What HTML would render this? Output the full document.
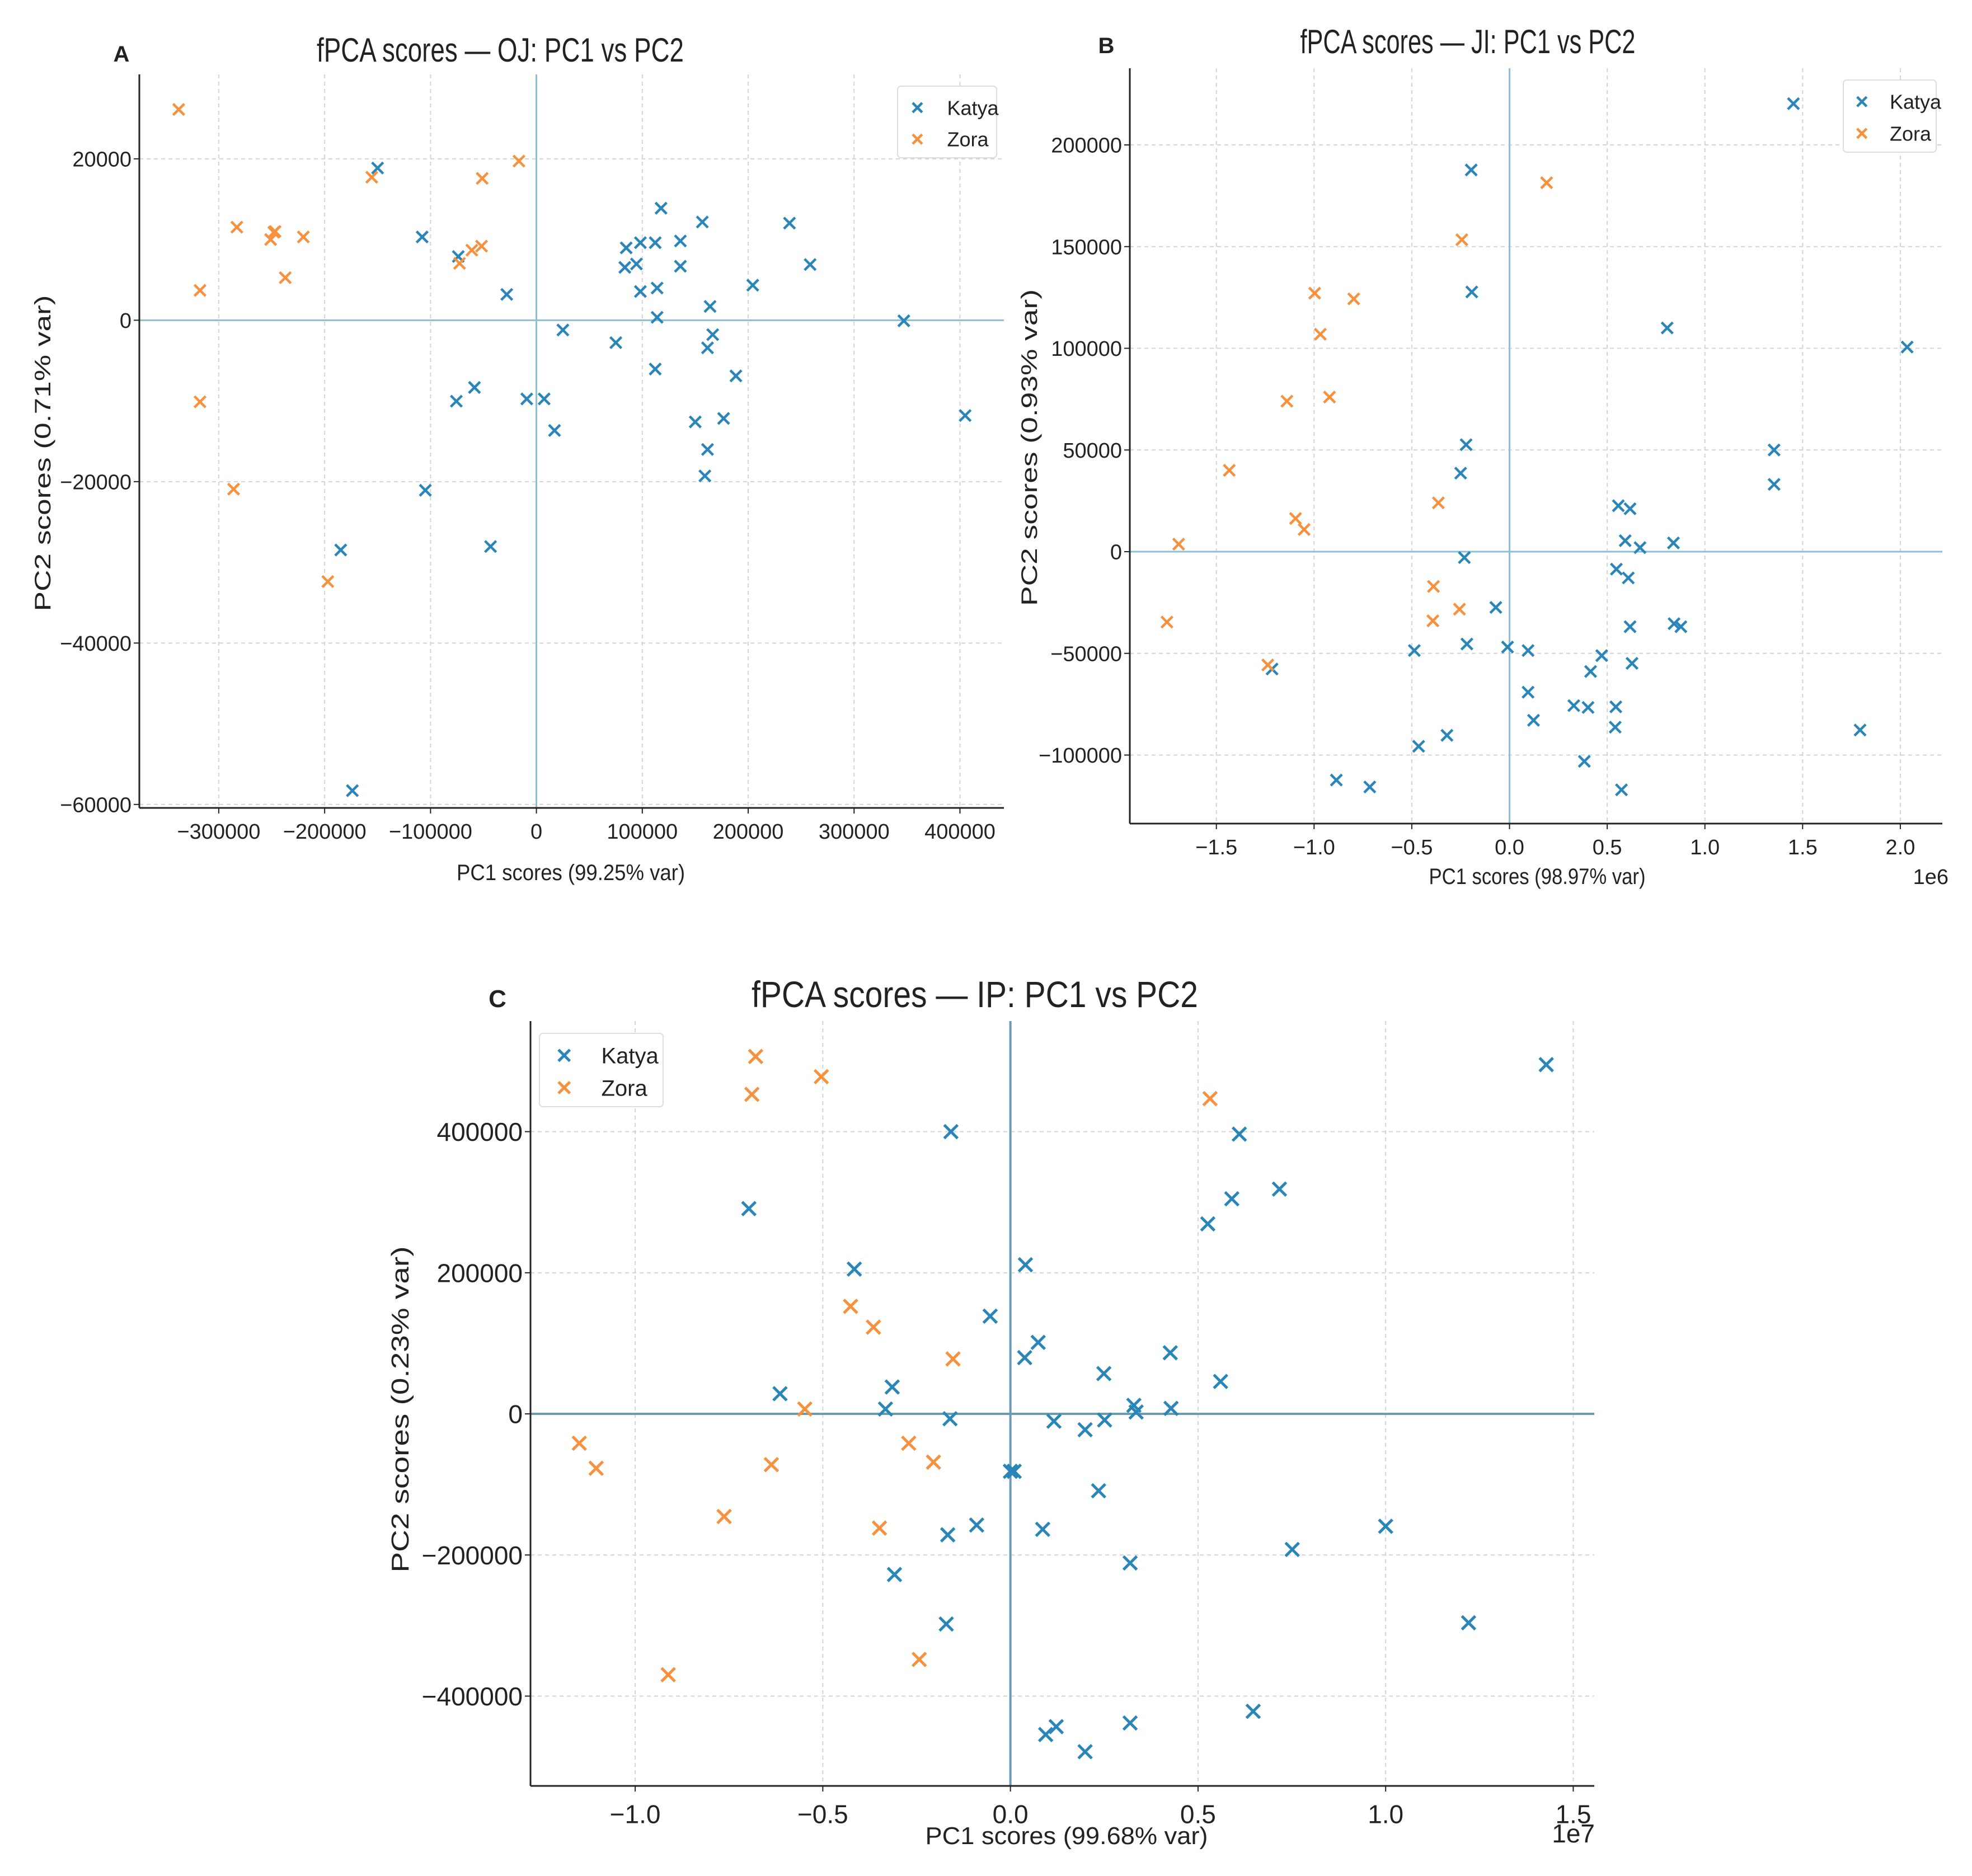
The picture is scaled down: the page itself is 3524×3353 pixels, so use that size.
<!DOCTYPE html>
<html><head><meta charset="utf-8"><style>
html,body{margin:0;padding:0;background:#fff;}
svg{display:block;}
text{font-family:"Liberation Sans",sans-serif;fill:#222;}
</style></head><body>
<svg id="fig" width="3524" height="3353" viewBox="0 0 3524 3353" xmlns="http://www.w3.org/2000/svg">
<rect x="0" y="0" width="3524" height="3353" fill="#fff"/>
</svg>
<script>
// ---------- Panel A (OJ) data ----------
const aKatyaX=[-150000,-107900,-73800,-28000,25000,75000,84800,83500,94500,98200,98200,112200,114000,114000,117700,136000,136000,156700,164000,166500,161600,112200,188400,150000,176800,161600,159100,204300,239000,258500,347000,404900,-75600,-58500,-9100,7300,17100,-104900,-184800,-43300,-173800];
const aKatyaY=[18860,10320,7900,3200,-1210,-2780,8970,6550,6970,9610,3560,9610,3990,360,13880,9820,6690,12170,1710,-1780,-3420,-6050,-6900,-12600,-12170,-16010,-19290,4340,12030,6900,-70,-11810,-10030,-8330,-9750,-9750,-13660,-21070,-28470,-28040,-58290];
const aZoraX=[-337800,-282900,-251000,-248000,-246800,-220100,-237200,-317700,-317700,-286000,-197000,-155500,-51200,-16500,-61000,-51800,-72600];
const aZoraY=[26120,11530,10000,10900,11000,10320,5270,3700,-10110,-20930,-32380,17720,17580,19720,8680,9180,7050];
const aXTicks=[-300000,-200000,-100000,0,100000,200000,300000,400000];
const aXTickLabels=["−300000","−200000","−100000","0","100000","200000","300000","400000"];
const aYTicks=[-60000,-40000,-20000,0,20000];
const aYTickLabels=["−60000","−40000","−20000","0","20000"];
// ---------- Panel B (JI) data ----------
const bKatyaX=[1.453e6,-0.196e6,-0.193e6,0.807e6,2.035e6,-0.222e6,-0.25e6,1.354e6,1.354e6,0.557e6,0.617e6,0.592e6,0.668e6,0.839e6,-0.231e6,0.547e6,0.608e6,-0.07e6,0.617e6,0.842e6,0.877e6,-0.218e6,-0.01e6,0.095e6,-0.487e6,0.472e6,0.627e6,0.415e6,-1.215e6,0.095e6,0.329e6,0.402e6,0.544e6,0.123e6,0.541e6,-0.32e6,-0.465e6,0.383e6,-0.886e6,-0.715e6,0.573e6,1.794e6];
const bKatyaY=[220300,187700,127700,110000,100600,52600,38600,50000,33100,22600,21100,5400,2000,4300,-2900,-8600,-12900,-27400,-36900,-35400,-36900,-45400,-46900,-48600,-48600,-51100,-54900,-58900,-57700,-69100,-75700,-76600,-76300,-82900,-86300,-90300,-95700,-103100,-112300,-115700,-117100,-87700];
const bZoraX=[0.19e6,-0.244e6,-0.997e6,-0.797e6,-0.968e6,-1.139e6,-0.921e6,-1.434e6,-0.364e6,-1.095e6,-1.051e6,-1.693e6,-0.389e6,-0.256e6,-0.392e6,-1.753e6,-1.237e6];
const bZoraY=[181400,153400,127100,124300,106900,74000,76000,40000,24000,16300,10900,3700,-17100,-28300,-34000,-34600,-55700];
const bXTicks=[-1.5e6,-1.0e6,-0.5e6,0,0.5e6,1.0e6,1.5e6,2.0e6];
const bXTickLabels=["−1.5","−1.0","−0.5","0.0","0.5","1.0","1.5","2.0"];
const bYTicks=[-100000,-50000,0,50000,100000,150000,200000];
const bYTickLabels=["−100000","−50000","0","50000","100000","150000","200000"];
// ---------- Panel C (IP) data ----------
const cKatyaX=[14.28e6,-1.586e6,6.10e6,7.17e6,5.90e6,5.26e6,-6.97e6,-4.16e6,0.40e6,-0.54e6,0.74e6,0.38e6,4.26e6,2.49e6,5.60e6,-6.14e6,-3.15e6,-3.33e6,-1.61e6,1.16e6,1.99e6,2.51e6,3.29e6,3.35e6,4.28e6,0,0.1e6,2.35e6,-0.9e6,-1.67e6,0.86e6,3.19e6,-3.09e6,7.51e6,10.0e6,12.21e6,-1.71e6,6.47e6,3.19e6,1.22e6,0.94e6,1.99e6];
const cKatyaY=[495000,400000,396500,318600,304800,269300,290900,205200,211300,138500,101300,79700,86600,57100,45900,28600,38100,6900,-6900,-10400,-22500,-8700,12100,2600,7800,-81400,-81400,-109000,-157600,-171400,-163600,-211300,-227700,-192200,-159300,-296100,-297800,-421600,-438100,-443300,-454500,-478800];
const cZoraX=[-6.79e6,-6.89e6,-5.04e6,5.32e6,-4.26e6,-3.65e6,-1.53e6,-5.48e6,-2.71e6,-2.05e6,-6.37e6,-11.49e6,-11.04e6,-7.63e6,-3.49e6,-2.43e6,-9.12e6];
const cZoraY=[506500,452800,477900,446800,152400,122900,77900,6900,-41600,-68400,-71900,-41600,-77100,-145500,-161900,-348100,-369700];
const cXTicks=[-1.0e7,-0.5e7,0,0.5e7,1.0e7,1.5e7];
const cXTickLabels=["−1.0","−0.5","0.0","0.5","1.0","1.5"];
const cYTicks=[-400000,-200000,0,200000,400000];
const cYTickLabels=["−400000","−200000","0","200000","400000"];

const BLUE="#2a86b8", ORANGE="#f7913d";
const NS="http://www.w3.org/2000/svg";
const svg=document.getElementById('fig');
function mk(tag,attrs,parent){const e=document.createElementNS(NS,tag);for(const k in attrs)e.setAttribute(k,attrs[k]);(parent||svg).appendChild(e);return e;}

function drawPanel(p){
  const g=mk('g',{});
  
  
  const sx=v=>p.L+(v-p.xmin)/(p.xmax-p.xmin)*(p.R-p.L);
  const sy=v=>p.B-(v-p.ymin)/(p.ymax-p.ymin)*(p.B-p.T);
  p.xt.forEach((t,i)=>{
    const l=mk('line',{x1:sx(t),x2:sx(t),y1:p.T,y2:p.B,stroke:'#d4d4d4','stroke-width':2,'stroke-dasharray':'7,6'},g);
    
    
    const tk=mk('line',{x1:sx(t),x2:sx(t),y1:p.B,y2:p.B+10,stroke:'#222','stroke-width':2},g);
    
    
    const tx=mk('text',{x:sx(t),y:p.B+p.fs*1.45,'font-size':p.fs,'text-anchor':'middle'},g);
    tx.textContent=p.xl[i];
    
    
  });
  p.yt.forEach((t,i)=>{
    const l=mk('line',{x1:p.L,x2:p.R,y1:sy(t),y2:sy(t),stroke:'#d4d4d4','stroke-width':2,'stroke-dasharray':'7,6'},g);
    
    
    const tk=mk('line',{x1:p.L-10,x2:p.L,y1:sy(t),y2:sy(t),stroke:'#222','stroke-width':2},g);
    
    
    const tx=mk('text',{x:p.L-14,y:sy(t)+p.fs*0.36,'font-size':p.fs,'text-anchor':'end'},g);
    tx.textContent=p.yl[i];
    
    
  });
  const zh=mk('line',{x1:p.L,x2:p.R,y1:sy(0),y2:sy(0),stroke:p.zc,'stroke-width':p.zw},g);
  
  
  const zv=mk('line',{x1:sx(0),x2:sx(0),y1:p.T,y2:p.B,stroke:p.zc,'stroke-width':p.zw},g);
  
  
  const sl=mk('line',{x1:p.L,x2:p.L,y1:p.T,y2:p.B,stroke:'#222','stroke-width':3},g);
  
  
  const sb=mk('line',{x1:p.L,x2:p.R,y1:p.B,y2:p.B,stroke:'#222','stroke-width':3},g);
  
  
  function cross(x,y,c,parent,h){
    return mk('path',{d:`M${x-h},${y-h}L${x+h},${y+h}M${x-h},${y+h}L${x+h},${y-h}`,stroke:c,'stroke-width':p.mw,fill:'none'},parent);
  }
  [[p.kx,p.ky,BLUE,'katya'],[p.zx,p.zy,ORANGE,'zora']].forEach(([xs,ys,c,nm])=>{
    const sg=mk('g',{},g);
    
    
    xs.forEach((v,i)=>{
      const m=cross(sx(v),sy(ys[i]),c,sg,p.mh);
      
      
    });
  });
  const t=mk('text',{x:p.tx,y:p.ty,'font-size':p.tfs,'text-anchor':'middle',textLength:p.tlen,lengthAdjust:'spacingAndGlyphs'},g);
  t.textContent=p.title;
  
  
  const pl=mk('text',{x:p.lx,y:p.ly,'font-size':p.lfs,'font-weight':'bold','text-anchor':'middle'},g);
  pl.textContent=p.letter;
  
  
  const xt=mk('text',{x:p.xtx,y:p.xty,'font-size':p.afs,'text-anchor':'middle',textLength:p.xtlen,lengthAdjust:'spacingAndGlyphs'},g);
  xt.textContent=p.xtitle;
  
  
  const yt=mk('text',{x:0,y:0,'font-size':p.afs,'text-anchor':'middle',textLength:p.ytlen,lengthAdjust:'spacingAndGlyphs',transform:`translate(${p.ytx},${p.yty}) rotate(-90)`},g);
  yt.textContent=p.ytitle;
  
  
  if(p.off){
    const o=mk('text',{x:p.offx,y:p.offy,'font-size':p.fs,'text-anchor':'end'},g);
    o.textContent=p.off;
    
    
  }
  const lg=mk('g',{},g);
  
  
  mk('rect',{x:p.lgx,y:p.lgy,width:p.lgw,height:p.lgh,rx:6,fill:'#fff',stroke:'#ddd','stroke-width':2},lg);
  [['Katya',BLUE,0],['Zora',ORANGE,1]].forEach(([n,c,i])=>{
    const e=mk('g',{},lg);
    
    
    const cy=p.lgy+p.lgh*(0.3+0.44*i);
    cross(p.lgx+p.lgw*0.2,cy,c,e,p.mh*0.85);
    const tx=mk('text',{x:p.lgx+p.lgw*0.5,y:cy+p.lfs2*0.36,'font-size':p.lfs2},e);
    tx.textContent=n;
  });
}

drawPanel({id:'a',L:249,R:1794,T:133,B:1444,xmin:-375000,xmax:441500,ymin:-60430,ymax:30460,
  xt:aXTicks,xl:aXTickLabels,yt:aYTicks,yl:aYTickLabels,kx:aKatyaX,ky:aKatyaY,zx:aZoraX,zy:aZoraY,
  fs:38,zc:'#8cbfd4',zw:3,mw:4.5,mh:10,title:'fPCA scores — OJ: PC1 vs PC2',tx:894,ty:110,tfs:60,tlen:656,
  letter:'A',lx:217,ly:110,lfs:40,xtitle:'PC1 scores (99.25% var)',xtx:1020,xty:1573,afs:40,xtlen:408,
  ytitle:'PC2 scores (0.71% var)',ytx:90,yty:810,ytlen:565,
  lgx:1604,lgy:154,lgw:177,lgh:128,lfs2:36});
drawPanel({id:'b',L:2019,R:3471,T:122,B:1472,xmin:-1.943e6,xmax:2.215e6,ymin:-133700,ymax:237700,
  xt:bXTicks,xl:bXTickLabels,yt:bYTicks,yl:bYTickLabels,kx:bKatyaX,ky:bKatyaY,zx:bZoraX,zy:bZoraY,
  fs:38,zc:'#8cbfd4',zw:3,mw:4.5,mh:10,title:'fPCA scores — JI: PC1 vs PC2',tx:2623,ty:95,tfs:60,tlen:599,
  letter:'B',lx:1977,ly:95,lfs:40,xtitle:'PC1 scores (98.97% var)',xtx:2747,xty:1580,afs:40,xtlen:387,
  ytitle:'PC2 scores (0.93% var)',ytx:1853,yty:800,ytlen:566,off:'1e6',offx:3482,offy:1580,
  lgx:3294,lgy:143,lgw:166,lgh:129,lfs2:36});
drawPanel({id:'c',L:948,R:2849,T:1825,B:3192,xmin:-1.279e7,xmax:1.556e7,ymin:-527300,ymax:556700,
  xt:cXTicks,xl:cXTickLabels,yt:cYTicks,yl:cYTickLabels,kx:cKatyaX,ky:cKatyaY,zx:cZoraX,zy:cZoraY,
  fs:46,zc:'#6a9ab5',zw:4,mw:5,mh:12,title:'fPCA scores — IP: PC1 vs PC2',tx:1742,ty:1800,tfs:66,tlen:798,
  letter:'C',lx:889,ly:1800,lfs:44,xtitle:'PC1 scores (99.68% var)',xtx:1906,xty:3296,afs:44,xtlen:505,
  ytitle:'PC2 scores (0.23% var)',ytx:730,yty:2519,ytlen:583,off:'1e7',offx:2850,offy:3293,
  lgx:964,lgy:1847,lgw:221,lgh:131,lfs2:40});
</script>
</body></html>
